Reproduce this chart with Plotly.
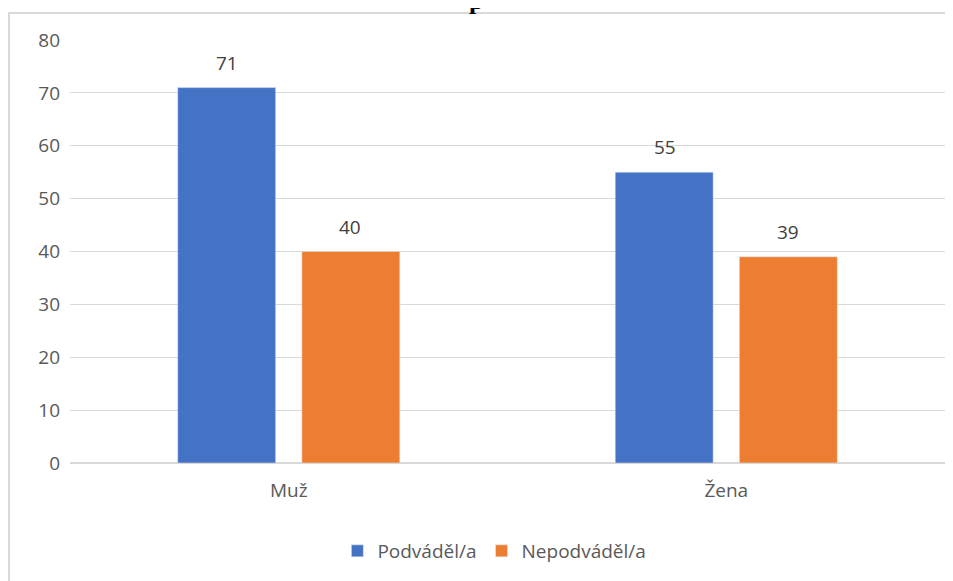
import plotly.graph_objects as go

categories = ["Muž", "Žena"]
podvadel = [71, 55]
nepodvadel = [40, 39]

blue = "#4472C4"
orange = "#ED7D31"
grey_text = "#595959"

# the page body has an 8px margin, so the figure is shifted by that amount
OFF = 8
W, H = 953 - OFF, 581 - OFF
L, R, T, B = 70 - OFF, 16 - OFF, 40 - OFF, 118
plot_w = W - L - R
plot_h = H - T - B

fig = go.Figure()
fig.add_trace(go.Bar(x=categories, y=podvadel, name="Podváděl/a",
                     marker=dict(color=blue)))
fig.add_trace(go.Bar(x=categories, y=nepodvadel, name="Nepodváděl/a",
                     marker=dict(color=orange)))

# value labels above each bar
for vals, shift in [(podvadel, -61.5), (nepodvadel, 61.5)]:
    for cat, v in zip(categories, vals):
        fig.add_annotation(x=cat, y=v, text=str(v), showarrow=False,
                           xshift=shift, yshift=25, yanchor="middle",
                           font=dict(size=19, color="#404040",
                                     family="Open Sans, sans-serif"))

# outer frame of the chart object (partly cropped in the reference)
fig.add_shape(type="rect", xref="paper", yref="paper",
              x0=(9 - 70) / plot_w, x1=1.1, y0=-0.5, y1=(463 - 13) / plot_h,
              line=dict(color="#d9d9d9", width=2), fillcolor="rgba(0,0,0,0)",
              layer="below")

# cropped title: only the descender of the bold title shows at the top
fig.add_annotation(text="<b>p</b>", xref="paper", yref="paper",
                   x=(476 - 70) / plot_w, y=(463 - 17) / plot_h, yanchor="bottom",
                   showarrow=False,
                   font=dict(family="Liberation Serif, serif", size=26, color="black"))

fig.update_layout(
    width=W, height=H,
    margin=dict(l=L, r=R, t=T, b=B),
    paper_bgcolor="white", plot_bgcolor="white",
    barmode="group", bargap=0.4325, bargroupgap=0.211,
    font=dict(family="Open Sans, sans-serif", size=19, color=grey_text),
    showlegend=True,
    legend=dict(orientation="h", x=0.485, xanchor="center",
                y=-(551 - 463) / plot_h, yanchor="middle",
                font=dict(size=19, color=grey_text), itemwidth=30),
    xaxis=dict(showline=True, linecolor="#d9d9d9", linewidth=1, ticks="",
               tickfont=dict(size=19, color=grey_text), ticklabelstandoff=10),
    yaxis=dict(range=[0, 80], dtick=10, showgrid=True, gridcolor="#d9d9d9",
               zeroline=True, zerolinecolor="#d9d9d9", showline=False,
               tickfont=dict(size=19, color=grey_text), ticklabelstandoff=9),
)

fig.write_html("out.html")
